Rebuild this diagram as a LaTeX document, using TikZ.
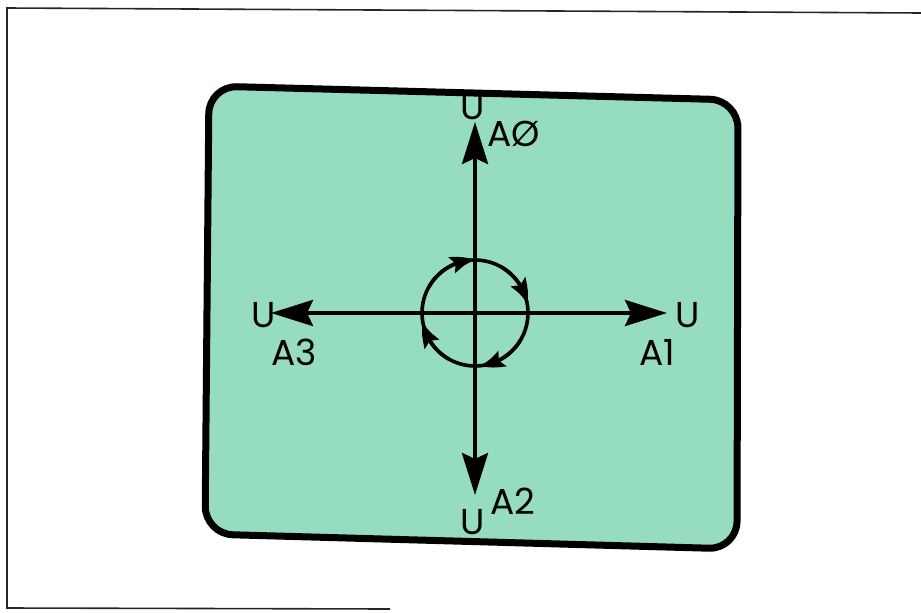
\documentclass[tikz,border=0pt]{standalone}
\usepackage{fontspec}
\setmainfont{Poppins}
\usetikzlibrary{arrows.meta, bending}
\definecolor{screen}{HTML}{96DCBF}

\begin{document}
\begin{tikzpicture}[
    x=1pt, y=-1pt,
    frame/.style={draw=black!85, line width=1.6pt},
    tube/.style={draw=black, fill=screen, line width=7pt, rounded corners=28pt},
    axis/.style={-{Stealth[length=42pt, width=26pt, inset=6pt]}, line width=4.2pt},
    ring/.style={draw=black, line width=3.6pt},
    turn/.style={ring, -{Stealth[length=24pt, width=17pt, inset=4pt, bend]}},
    lab/.style={font=\fontsize{36}{38}\selectfont, inner sep=0pt},
  ]
  \useasboundingbox (0,0) rectangle (921,613);
  % ------------------------------------------------------------------ page frame
  \draw[frame] (921,13) -- (7,8) -- (7,608) -- (390,609);
  % ------------------------------------------------------------------ the screen
  \draw[tube] (209,86) -- (738,100) -- (737,549) -- (205,534) -- cycle;
  % ------------------------------------------------------------------ axes
  \coordinate (O) at (475,313);
  \coordinate (t0) at (475,122);
  \coordinate (t1) at (667,313);
  \coordinate (t2) at (475,495);
  \coordinate (t3) at (271,313);
  \foreach \k in {0,...,3} {
    \draw[axis] (O) -- (t\k);
  }
  \node[lab] (u0) at (473,107) {U};
  \node[lab] (u1) at (688,315) {U};
  \node[lab] (u2) at (473,522) {U};
  \node[lab] (u3) at (264,315) {U};
  \node[lab] (a0) at (514,134) {AØ};
  \node[lab] (a1) at (657,352) {A1};
  \node[lab] (a2) at (513,501) {A2};
  \node[lab] (a3) at (294,352) {A3};
  % ------------------------------------------------------------------ rotation (y runs down, so angles are mirrored)
  \draw[ring] (O) circle[radius=53];
  \foreach \s/\e in {-150/-90, -60/-10, 30/85, 120/170} {
    \draw[turn] (O) ++(\s:53) arc[start angle=\s, end angle=\e, radius=53];
  }
\end{tikzpicture}
\end{document}
